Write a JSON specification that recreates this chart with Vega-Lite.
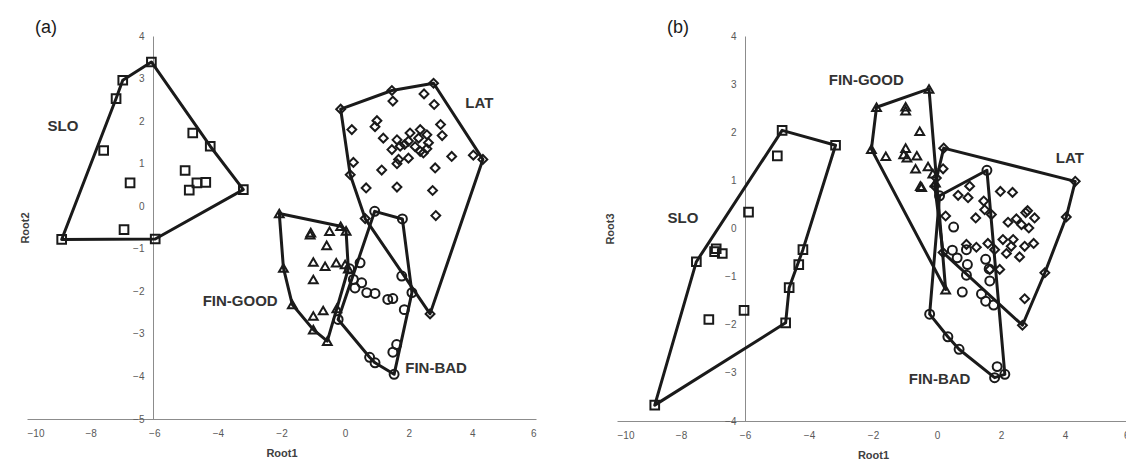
{
  "$schema": "https://vega.github.io/schema/vega-lite/v6.json",
  "padding": {"left": 19, "top": 19, "right": 0, "bottom": 0},
  "bounds": "flush",
  "spacing": 81,
  "config": {
    "font": "Liberation Sans",
    "view": {"stroke": null},
    "axis": {"grid": false, "ticks": false, "domainColor": "#8c8c8c", "domainWidth": 1, "labelColor": "#595959", "labelFontSize": 10, "titleFontWeight": "bold", "titleFontSize": 11, "titleColor": "#404040"}
  },
  "datasets": {
    "pts": [
      {"p":"a","g":"SLO","x":-6.09,"y":3.39},{"p":"a","g":"SLO","x":-6.99,"y":2.96},{"p":"a","g":"SLO","x":-7.2,"y":2.53},{"p":"a","g":"SLO","x":-7.59,"y":1.31},{"p":"a","g":"SLO","x":-6.76,"y":0.55},{"p":"a","g":"SLO","x":-4.79,"y":1.72},{"p":"a","g":"SLO","x":-4.24,"y":1.41},{"p":"a","g":"SLO","x":-5.03,"y":0.84},{"p":"a","g":"SLO","x":-4.66,"y":0.55},{"p":"a","g":"SLO","x":-4.38,"y":0.56},{"p":"a","g":"SLO","x":-4.9,"y":0.38},{"p":"a","g":"SLO","x":-3.2,"y":0.39},{"p":"a","g":"SLO","x":-6.95,"y":-0.55},{"p":"a","g":"SLO","x":-8.91,"y":-0.78},{"p":"a","g":"SLO","x":-5.97,"y":-0.77},
      {"p":"a","g":"LAT","x":-0.14,"y":2.28},{"p":"a","g":"LAT","x":1.47,"y":2.72},{"p":"a","g":"LAT","x":2.78,"y":2.89},{"p":"a","g":"LAT","x":4.33,"y":1.1},{"p":"a","g":"LAT","x":2.67,"y":-2.53},{"p":"a","g":"LAT","x":0.63,"y":-0.29},{"p":"a","g":"LAT","x":0.16,"y":0.74},
      {"p":"a","g":"LAT","x":1.5,"y":2.47},{"p":"a","g":"LAT","x":2.48,"y":2.64},{"p":"a","g":"LAT","x":2.8,"y":2.39},{"p":"a","g":"LAT","x":0.21,"y":1.8},{"p":"a","g":"LAT","x":1.0,"y":2.01},{"p":"a","g":"LAT","x":0.94,"y":1.87},{"p":"a","g":"LAT","x":3.0,"y":1.92},{"p":"a","g":"LAT","x":3.05,"y":1.66},{"p":"a","g":"LAT","x":1.2,"y":1.6},{"p":"a","g":"LAT","x":1.63,"y":1.56},{"p":"a","g":"LAT","x":1.47,"y":1.33},{"p":"a","g":"LAT","x":1.73,"y":1.41},{"p":"a","g":"LAT","x":1.99,"y":1.53},{"p":"a","g":"LAT","x":2.04,"y":1.72},{"p":"a","g":"LAT","x":2.36,"y":1.8},{"p":"a","g":"LAT","x":2.31,"y":1.6},{"p":"a","g":"LAT","x":2.57,"y":1.68},{"p":"a","g":"LAT","x":2.62,"y":1.49},{"p":"a","g":"LAT","x":2.36,"y":1.29},{"p":"a","g":"LAT","x":2.57,"y":1.35},{"p":"a","g":"LAT","x":2.46,"y":1.25},{"p":"a","g":"LAT","x":1.99,"y":1.13},{"p":"a","g":"LAT","x":1.68,"y":1.1},{"p":"a","g":"LAT","x":1.63,"y":1.0},{"p":"a","g":"LAT","x":1.87,"y":1.45},{"p":"a","g":"LAT","x":2.2,"y":1.4},{"p":"a","g":"LAT","x":3.35,"y":1.17},{"p":"a","g":"LAT","x":4.03,"y":1.2},{"p":"a","g":"LAT","x":0.26,"y":1.03},{"p":"a","g":"LAT","x":1.15,"y":0.85},{"p":"a","g":"LAT","x":2.83,"y":0.9},{"p":"a","g":"LAT","x":0.66,"y":0.43},{"p":"a","g":"LAT","x":1.63,"y":0.45},{"p":"a","g":"LAT","x":2.75,"y":0.37},{"p":"a","g":"LAT","x":2.85,"y":-0.22},
      {"p":"a","g":"FIN-GOOD","x":-2.07,"y":-0.17},{"p":"a","g":"FIN-GOOD","x":-0.14,"y":-0.47},{"p":"a","g":"FIN-GOOD","x":0.03,"y":-0.58},{"p":"a","g":"FIN-GOOD","x":0.1,"y":-1.47},{"p":"a","g":"FIN-GOOD","x":-0.26,"y":-2.4},{"p":"a","g":"FIN-GOOD","x":-0.56,"y":-3.17},{"p":"a","g":"FIN-GOOD","x":-1.0,"y":-2.9},{"p":"a","g":"FIN-GOOD","x":-1.66,"y":-2.31},{"p":"a","g":"FIN-GOOD","x":-1.94,"y":-1.45},
      {"p":"a","g":"FIN-GOOD","x":-1.1,"y":-0.67},{"p":"a","g":"FIN-GOOD","x":-1.08,"y":-0.62},{"p":"a","g":"FIN-GOOD","x":-0.49,"y":-0.59},{"p":"a","g":"FIN-GOOD","x":-0.58,"y":-0.92},{"p":"a","g":"FIN-GOOD","x":-1.0,"y":-1.31},{"p":"a","g":"FIN-GOOD","x":-0.63,"y":-1.41},{"p":"a","g":"FIN-GOOD","x":-0.28,"y":-1.33},{"p":"a","g":"FIN-GOOD","x":0.0,"y":-1.37},{"p":"a","g":"FIN-GOOD","x":-1.0,"y":-1.72},{"p":"a","g":"FIN-GOOD","x":-1.0,"y":-2.58},{"p":"a","g":"FIN-GOOD","x":-0.69,"y":-2.45},
      {"p":"a","g":"FIN-BAD","x":0.93,"y":-0.12},{"p":"a","g":"FIN-BAD","x":1.8,"y":-0.3},{"p":"a","g":"FIN-BAD","x":2.1,"y":-2.03},{"p":"a","g":"FIN-BAD","x":1.54,"y":-3.95},{"p":"a","g":"FIN-BAD","x":0.94,"y":-3.68},{"p":"a","g":"FIN-BAD","x":0.77,"y":-3.55},{"p":"a","g":"FIN-BAD","x":-0.22,"y":-2.66},
      {"p":"a","g":"FIN-BAD","x":0.47,"y":-1.33},{"p":"a","g":"FIN-BAD","x":0.26,"y":-1.72},{"p":"a","g":"FIN-BAD","x":0.52,"y":-1.8},{"p":"a","g":"FIN-BAD","x":0.31,"y":-1.92},{"p":"a","g":"FIN-BAD","x":0.68,"y":-2.03},{"p":"a","g":"FIN-BAD","x":0.94,"y":-2.05},{"p":"a","g":"FIN-BAD","x":1.34,"y":-2.19},{"p":"a","g":"FIN-BAD","x":1.5,"y":-2.17},{"p":"a","g":"FIN-BAD","x":1.86,"y":-2.43},{"p":"a","g":"FIN-BAD","x":1.78,"y":-1.64},{"p":"a","g":"FIN-BAD","x":1.62,"y":-3.25},{"p":"a","g":"FIN-BAD","x":1.5,"y":-3.43},{"p":"a","g":"FIN-BAD","x":0.14,"y":-1.47},
      {"p":"b","g":"SLO","x":-4.84,"y":2.04},{"p":"b","g":"SLO","x":-3.17,"y":1.73},{"p":"b","g":"SLO","x":-4.99,"y":1.51},{"p":"b","g":"SLO","x":-5.89,"y":0.34},{"p":"b","g":"SLO","x":-7.52,"y":-0.69},{"p":"b","g":"SLO","x":-6.9,"y":-0.42},{"p":"b","g":"SLO","x":-6.95,"y":-0.48},{"p":"b","g":"SLO","x":-6.71,"y":-0.52},{"p":"b","g":"SLO","x":-4.19,"y":-0.44},{"p":"b","g":"SLO","x":-4.32,"y":-0.75},{"p":"b","g":"SLO","x":-4.62,"y":-1.23},{"p":"b","g":"SLO","x":-4.73,"y":-1.96},{"p":"b","g":"SLO","x":-6.03,"y":-1.7},{"p":"b","g":"SLO","x":-7.13,"y":-1.89},{"p":"b","g":"SLO","x":-8.82,"y":-3.67},
      {"p":"b","g":"FIN-GOOD","x":-1.89,"y":2.52},{"p":"b","g":"FIN-GOOD","x":-0.25,"y":2.9},{"p":"b","g":"FIN-GOOD","x":0.27,"y":-1.27},{"p":"b","g":"FIN-GOOD","x":-2.05,"y":1.65},
      {"p":"b","g":"FIN-GOOD","x":-0.98,"y":2.53},{"p":"b","g":"FIN-GOOD","x":-0.98,"y":2.45},{"p":"b","g":"FIN-GOOD","x":-0.54,"y":2.02},{"p":"b","g":"FIN-GOOD","x":-1.6,"y":1.5},{"p":"b","g":"FIN-GOOD","x":-0.98,"y":1.67},{"p":"b","g":"FIN-GOOD","x":-1.04,"y":1.54},{"p":"b","g":"FIN-GOOD","x":-0.94,"y":1.47},{"p":"b","g":"FIN-GOOD","x":-0.63,"y":1.51},{"p":"b","g":"FIN-GOOD","x":-0.67,"y":1.24},{"p":"b","g":"FIN-GOOD","x":-0.28,"y":1.29},{"p":"b","g":"FIN-GOOD","x":-0.13,"y":1.14},{"p":"b","g":"FIN-GOOD","x":-0.52,"y":0.88},{"p":"b","g":"FIN-GOOD","x":-0.48,"y":0.86},{"p":"b","g":"FIN-GOOD","x":-0.05,"y":0.95},
      {"p":"b","g":"LAT","x":0.21,"y":1.67},{"p":"b","g":"LAT","x":4.32,"y":0.98},{"p":"b","g":"LAT","x":4.04,"y":0.24},{"p":"b","g":"LAT","x":3.37,"y":-0.92},{"p":"b","g":"LAT","x":2.67,"y":-2.01},{"p":"b","g":"LAT","x":0.19,"y":-0.5},{"p":"b","g":"LAT","x":-0.07,"y":0.88},
      {"p":"b","g":"LAT","x":0.19,"y":1.24},{"p":"b","g":"LAT","x":-0.02,"y":1.05},{"p":"b","g":"LAT","x":1.02,"y":0.88},{"p":"b","g":"LAT","x":0.66,"y":0.69},{"p":"b","g":"LAT","x":0.97,"y":0.64},{"p":"b","g":"LAT","x":1.98,"y":0.77},{"p":"b","g":"LAT","x":2.36,"y":0.75},{"p":"b","g":"LAT","x":1.46,"y":0.57},{"p":"b","g":"LAT","x":1.49,"y":0.39},{"p":"b","g":"LAT","x":1.7,"y":0.29},{"p":"b","g":"LAT","x":1.21,"y":0.22},{"p":"b","g":"LAT","x":0.27,"y":0.26},{"p":"b","g":"LAT","x":2.22,"y":0.13},{"p":"b","g":"LAT","x":2.48,"y":0.2},{"p":"b","g":"LAT","x":2.77,"y":0.33},{"p":"b","g":"LAT","x":2.83,"y":0.37},{"p":"b","g":"LAT","x":3.05,"y":0.22},{"p":"b","g":"LAT","x":2.64,"y":0.08},{"p":"b","g":"LAT","x":2.87,"y":0.01},{"p":"b","g":"LAT","x":2.06,"y":-0.23},{"p":"b","g":"LAT","x":2.38,"y":-0.23},{"p":"b","g":"LAT","x":2.32,"y":-0.37},{"p":"b","g":"LAT","x":3.02,"y":-0.31},{"p":"b","g":"LAT","x":2.74,"y":-0.37},{"p":"b","g":"LAT","x":2.17,"y":-0.52},{"p":"b","g":"LAT","x":2.58,"y":-0.59},{"p":"b","g":"LAT","x":1.59,"y":-0.31},{"p":"b","g":"LAT","x":1.8,"y":-0.44},{"p":"b","g":"LAT","x":1.23,"y":-0.39},{"p":"b","g":"LAT","x":0.92,"y":-0.33},{"p":"b","g":"LAT","x":1.65,"y":-0.85},{"p":"b","g":"LAT","x":1.96,"y":-0.85},{"p":"b","g":"LAT","x":2.74,"y":-1.46},
      {"p":"b","g":"FIN-BAD","x":0.08,"y":0.68},{"p":"b","g":"FIN-BAD","x":1.56,"y":1.21},{"p":"b","g":"FIN-BAD","x":2.12,"y":-3.03},{"p":"b","g":"FIN-BAD","x":1.8,"y":-3.1},{"p":"b","g":"FIN-BAD","x":0.69,"y":-2.51},{"p":"b","g":"FIN-BAD","x":0.34,"y":-2.25},{"p":"b","g":"FIN-BAD","x":-0.23,"y":-1.78},
      {"p":"b","g":"FIN-BAD","x":0.52,"y":0.03},{"p":"b","g":"FIN-BAD","x":0.48,"y":-0.45},{"p":"b","g":"FIN-BAD","x":0.92,"y":-0.44},{"p":"b","g":"FIN-BAD","x":0.63,"y":-0.61},{"p":"b","g":"FIN-BAD","x":0.95,"y":-0.75},{"p":"b","g":"FIN-BAD","x":0.92,"y":-0.97},{"p":"b","g":"FIN-BAD","x":1.52,"y":-0.64},{"p":"b","g":"FIN-BAD","x":1.63,"y":-0.84},{"p":"b","g":"FIN-BAD","x":1.65,"y":-1.09},{"p":"b","g":"FIN-BAD","x":0.79,"y":-1.32},{"p":"b","g":"FIN-BAD","x":1.39,"y":-1.36},{"p":"b","g":"FIN-BAD","x":1.52,"y":-1.51},{"p":"b","g":"FIN-BAD","x":1.77,"y":-1.59},{"p":"b","g":"FIN-BAD","x":1.88,"y":-2.87}
    ],
    "hull": [
      {"p":"a","g":"SLO","o":1,"x":-8.91,"y":-0.78},{"p":"a","g":"SLO","o":2,"x":-7.2,"y":2.53},{"p":"a","g":"SLO","o":3,"x":-6.99,"y":2.96},{"p":"a","g":"SLO","o":4,"x":-6.09,"y":3.39},{"p":"a","g":"SLO","o":5,"x":-4.24,"y":1.41},{"p":"a","g":"SLO","o":6,"x":-3.2,"y":0.39},{"p":"a","g":"SLO","o":7,"x":-5.97,"y":-0.77},
      {"p":"a","g":"LAT","o":1,"x":-0.14,"y":2.28},{"p":"a","g":"LAT","o":2,"x":1.47,"y":2.72},{"p":"a","g":"LAT","o":3,"x":2.78,"y":2.89},{"p":"a","g":"LAT","o":4,"x":4.33,"y":1.1},{"p":"a","g":"LAT","o":5,"x":2.67,"y":-2.53},{"p":"a","g":"LAT","o":6,"x":0.63,"y":-0.29},{"p":"a","g":"LAT","o":7,"x":0.16,"y":0.74},
      {"p":"a","g":"FIN-GOOD","o":1,"x":-2.07,"y":-0.17},{"p":"a","g":"FIN-GOOD","o":2,"x":-0.14,"y":-0.47},{"p":"a","g":"FIN-GOOD","o":3,"x":0.03,"y":-0.58},{"p":"a","g":"FIN-GOOD","o":4,"x":0.1,"y":-1.47},{"p":"a","g":"FIN-GOOD","o":5,"x":-0.26,"y":-2.4},{"p":"a","g":"FIN-GOOD","o":6,"x":-0.56,"y":-3.17},{"p":"a","g":"FIN-GOOD","o":7,"x":-1.0,"y":-2.9},{"p":"a","g":"FIN-GOOD","o":8,"x":-1.66,"y":-2.31},{"p":"a","g":"FIN-GOOD","o":9,"x":-1.94,"y":-1.45},
      {"p":"a","g":"FIN-BAD","o":1,"x":0.93,"y":-0.12},{"p":"a","g":"FIN-BAD","o":2,"x":1.8,"y":-0.3},{"p":"a","g":"FIN-BAD","o":3,"x":2.1,"y":-2.03},{"p":"a","g":"FIN-BAD","o":4,"x":1.54,"y":-3.95},{"p":"a","g":"FIN-BAD","o":5,"x":0.94,"y":-3.68},{"p":"a","g":"FIN-BAD","o":6,"x":0.77,"y":-3.55},{"p":"a","g":"FIN-BAD","o":7,"x":-0.22,"y":-2.66},
      {"p":"b","g":"SLO","o":1,"x":-8.82,"y":-3.67},{"p":"b","g":"SLO","o":2,"x":-7.52,"y":-0.69},{"p":"b","g":"SLO","o":3,"x":-4.84,"y":2.04},{"p":"b","g":"SLO","o":4,"x":-3.17,"y":1.73},{"p":"b","g":"SLO","o":5,"x":-4.19,"y":-0.44},{"p":"b","g":"SLO","o":6,"x":-4.62,"y":-1.23},{"p":"b","g":"SLO","o":7,"x":-4.73,"y":-1.96},
      {"p":"b","g":"FIN-GOOD","o":1,"x":-1.89,"y":2.52},{"p":"b","g":"FIN-GOOD","o":2,"x":-0.25,"y":2.9},{"p":"b","g":"FIN-GOOD","o":3,"x":0.27,"y":-1.27},{"p":"b","g":"FIN-GOOD","o":4,"x":-2.05,"y":1.65},
      {"p":"b","g":"LAT","o":1,"x":0.21,"y":1.67},{"p":"b","g":"LAT","o":2,"x":4.32,"y":0.98},{"p":"b","g":"LAT","o":3,"x":4.04,"y":0.24},{"p":"b","g":"LAT","o":4,"x":3.37,"y":-0.92},{"p":"b","g":"LAT","o":5,"x":2.67,"y":-2.01},{"p":"b","g":"LAT","o":6,"x":0.19,"y":-0.5},{"p":"b","g":"LAT","o":7,"x":-0.07,"y":0.88},
      {"p":"b","g":"FIN-BAD","o":1,"x":0.08,"y":0.68},{"p":"b","g":"FIN-BAD","o":2,"x":1.56,"y":1.21},{"p":"b","g":"FIN-BAD","o":3,"x":2.12,"y":-3.03},{"p":"b","g":"FIN-BAD","o":4,"x":1.8,"y":-3.1},{"p":"b","g":"FIN-BAD","o":5,"x":0.69,"y":-2.51},{"p":"b","g":"FIN-BAD","o":6,"x":0.34,"y":-2.25},{"p":"b","g":"FIN-BAD","o":7,"x":-0.23,"y":-1.78}
    ],
    "labels": [
      {"p":"a","t":"SLO","x":-8.87,"y":1.88},{"p":"a","t":"LAT","x":4.22,"y":2.43},{"p":"a","t":"FIN-GOOD","x":-3.3,"y":-2.23},{"p":"a","t":"FIN-BAD","x":2.86,"y":-3.8},
      {"p":"b","t":"SLO","x":-7.94,"y":0.22},{"p":"b","t":"FIN-GOOD","x":-2.21,"y":3.09},{"p":"b","t":"LAT","x":4.15,"y":1.47},{"p":"b","t":"FIN-BAD","x":0.08,"y":-3.12}
    ]
  },
  "hconcat": [
    {
      "width": 509,
      "height": 383,
      "title": {"text": "(a)", "anchor": "start", "frame": "group", "fontSize": 18, "fontWeight": "normal", "color": "#1a1a1a", "dx": 8, "offset": -6},
      "encoding": {
        "x": {"field": "x", "type": "quantitative", "scale": {"domain": [-10, 6], "nice": false, "zero": false},
              "axis": {"values": [-10, -8, -6, -4, -2, 0, 2, 4, 6], "labelPadding": 9, "title": "Root1", "titlePadding": 9}},
        "y": {"field": "y", "type": "quantitative", "scale": {"domain": [-5, 4], "nice": false, "zero": false},
              "axis": {"values": [-5, -4, -3, -2, -1, 0, 1, 2, 3, 4], "offset": -126, "labelPadding": 9, "title": "Root2", "titleX": -123}}
      },
      "layer": [
        {"data": {"name": "hull"}, "transform": [{"filter": "datum.p == 'a'"}],
         "mark": {"type": "line", "interpolate": "linear-closed", "color": "#1a1a1a", "strokeWidth": 3, "strokeJoin": "round"},
         "encoding": {"detail": {"field": "g"}, "order": {"field": "o", "type": "quantitative"}}},
        {"data": {"name": "pts"}, "transform": [{"filter": "datum.p == 'a'"}],
         "mark": {"type": "point", "filled": false, "strokeWidth": 2, "color": "#1a1a1a", "opacity": 1},
         "encoding": {
           "shape": {"field": "g", "scale": {"domain": ["SLO", "FIN-GOOD", "LAT", "FIN-BAD"], "range": ["square", "triangle-up", "diamond", "circle"]}, "legend": null},
           "size": {"field": "g", "scale": {"domain": ["SLO", "FIN-GOOD", "LAT", "FIN-BAD"], "range": [75, 80, 55, 70]}, "legend": null}}},
        {"data": {"name": "labels"}, "transform": [{"filter": "datum.p == 'a'"}],
         "mark": {"type": "text", "fontWeight": "bold", "fontSize": 15, "color": "#333333"},
         "encoding": {"text": {"field": "t"}}}
      ]
    },
    {
      "width": 512,
      "height": 385,
      "title": {"text": "(b)", "anchor": "start", "frame": "group", "fontSize": 18, "fontWeight": "normal", "color": "#1a1a1a", "dx": 50, "offset": -6},
      "encoding": {
        "x": {"field": "x", "type": "quantitative", "scale": {"domain": [-10, 6], "nice": false, "zero": false},
              "axis": {"values": [-10, -8, -6, -4, -2, 0, 2, 4, 6], "labelPadding": 9, "title": "Root1", "titlePadding": 9}},
        "y": {"field": "y", "type": "quantitative", "scale": {"domain": [-4, 4], "nice": false, "zero": false},
              "axis": {"values": [-4, -3, -2, -1, 0, 1, 2, 3, 4], "offset": -128, "labelPadding": 9, "title": "Root3", "titleX": -130}}
      },
      "layer": [
        {"data": {"name": "hull"}, "transform": [{"filter": "datum.p == 'b'"}],
         "mark": {"type": "line", "interpolate": "linear-closed", "color": "#1a1a1a", "strokeWidth": 3, "strokeJoin": "round"},
         "encoding": {"detail": {"field": "g"}, "order": {"field": "o", "type": "quantitative"}}},
        {"data": {"name": "pts"}, "transform": [{"filter": "datum.p == 'b'"}],
         "mark": {"type": "point", "filled": false, "strokeWidth": 2, "color": "#1a1a1a", "opacity": 1},
         "encoding": {
           "shape": {"field": "g", "scale": {"domain": ["SLO", "FIN-GOOD", "LAT", "FIN-BAD"], "range": ["square", "triangle-up", "diamond", "circle"]}, "legend": null},
           "size": {"field": "g", "scale": {"domain": ["SLO", "FIN-GOOD", "LAT", "FIN-BAD"], "range": [75, 80, 55, 70]}, "legend": null}}},
        {"data": {"name": "labels"}, "transform": [{"filter": "datum.p == 'b'"}],
         "mark": {"type": "text", "fontWeight": "bold", "fontSize": 15, "color": "#333333"},
         "encoding": {"text": {"field": "t"}}}
      ]
    }
  ]
}
